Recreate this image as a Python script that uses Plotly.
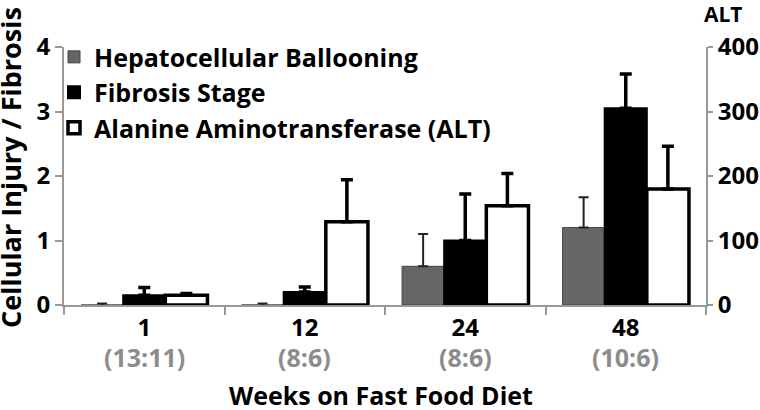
import plotly.graph_objects as go

categories = ["1", "12", "24", "48"]
group_sizes = ["(13:11)", "(8:6)", "(8:6)", "(10:6)"]

ballooning = [0.0, 0.0, 0.6, 1.2]
ballooning_err = [0.025, 0.025, 0.5, 0.47]
ballooning_err_minus = [0.025, 0.025, 0.0, 0.0]

fibrosis = [0.15, 0.2, 1.0, 3.05]
fibrosis_err = [0.12, 0.08, 0.72, 0.53]

alt = [15, 129, 154, 180]
alt_err = [3, 65, 50, 66]

FONT = "Open Sans"
W = 0.2625
fig = go.Figure()

fig.add_trace(go.Bar(
    x=categories, y=ballooning, name="Hepatocellular Ballooning",
    marker=dict(color="#666666", line=dict(color="#444444", width=1)),
    width=W, offset=-1.5 * W, legendgroup="a",
    error_y=dict(type="data", array=ballooning_err, arrayminus=ballooning_err_minus,
                 symmetric=False, color="#222222", thickness=2, width=5),
))
fig.add_trace(go.Bar(
    x=categories, y=fibrosis, name="Fibrosis Stage",
    marker=dict(color="black", line=dict(color="black", width=2)),
    width=W, offset=-0.5 * W, legendgroup="b",
    error_y=dict(type="data", array=fibrosis_err, symmetric=False,
                 arrayminus=[0, 0, 0, 0], color="black", thickness=3.5, width=6),
))
fig.add_trace(go.Bar(
    x=categories, y=alt, name="Alanine Aminotransferase (ALT)",
    marker=dict(color="white", line=dict(color="black", width=3.5)),
    width=W, offset=0.5 * W, yaxis="y2", legendgroup="c",
    error_y=dict(type="data", array=alt_err, symmetric=False,
                 arrayminus=[0, 0, 0, 0], color="black", thickness=3.5, width=6),
))

for i, g in enumerate(group_sizes):
    fig.add_annotation(x=i, y=(305 - 357) / 258, yref="paper", text="<b>" + g + "</b>",
                       showarrow=False, font=dict(family=FONT, size=25, color="#8c8c8c"),
                       xanchor="center", yanchor="middle")

fig.add_annotation(x=(381 - 64) / 642, xref="paper", y=(305 - 395) / 258, yref="paper",
                   text="<b>Weeks on Fast Food Diet</b>", showarrow=False,
                   font=dict(family=FONT, size=25, color="black"),
                   xanchor="center", yanchor="middle")
fig.add_annotation(x=(10 - 64) / 642, xref="paper", y=(305 - 168) / 258, yref="paper",
                   text="<b>Cellular Injury / Fibrosis</b>", textangle=-90, showarrow=False,
                   font=dict(family=FONT, size=27, color="black"), xanchor="center", yanchor="middle")
fig.add_annotation(x=(723 - 64) / 642, xref="paper", y=(305 - 14) / 258, yref="paper",
                   text="<b>ALT</b>", showarrow=False,
                   font=dict(family=FONT, size=21, color="black"),
                   xanchor="center", yanchor="middle")

fig.update_layout(
    width=760, height=410,
    margin=dict(l=64, r=54, t=47, b=105, autoexpand=False),
    paper_bgcolor="white", plot_bgcolor="white",
    barmode="group",
    showlegend=True,
    legend=dict(x=(54 - 64) / 642, y=1.05, xanchor="left", yanchor="top",
                font=dict(family=FONT, size=25, color="black", weight="bold"),
                traceorder="grouped", tracegroupgap=0, bgcolor="rgba(0,0,0,0)"),
    xaxis=dict(type="category", range=[-0.5, 3.5], showline=True, linecolor="#999999",
               linewidth=2, ticks="outside", tickson="boundaries", ticklen=8,
               tickcolor="#999999", tickwidth=2, showgrid=False,
               tickfont=dict(family=FONT, size=24, color="black", weight="bold")),
    yaxis=dict(range=[0, 4], tickvals=[0, 1, 2, 3, 4], showline=True, linecolor="#999999",
               linewidth=2, ticks="outside", ticklen=7, tickcolor="#999999", tickwidth=2,
               showgrid=False, zeroline=False,
               tickfont=dict(family=FONT, size=24, color="black", weight="bold")),
    yaxis2=dict(range=[0, 400], tickvals=[0, 100, 200, 300, 400], overlaying="y",
                side="right", showline=True, linecolor="#999999", linewidth=2,
                ticks="outside", ticklen=5, tickcolor="#999999", tickwidth=2,
                showgrid=False, zeroline=False,
                tickfont=dict(family=FONT, size=24, color="black", weight="bold")),
)

# Remove the page's default 8px body margin so the figure sits at the window's corner.
fig.write_html("out.html", config={"displayModeBar": False},
               post_script="document.body.style.margin='0';")
